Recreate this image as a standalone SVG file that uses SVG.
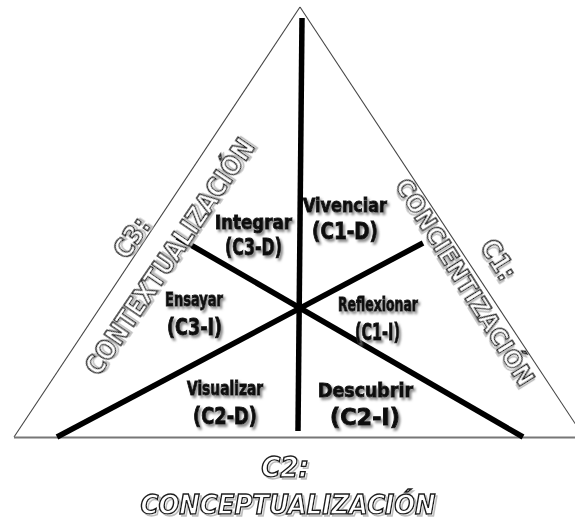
<svg xmlns="http://www.w3.org/2000/svg" width="575" height="524" viewBox="0 0 575 524">
<defs>
<filter id="sh" x="-20%" y="-30%" width="150%" height="170%">
<feDropShadow dx="2" dy="2.5" stdDeviation="1.2" flood-color="#808080" flood-opacity="0.9"/>
</filter>
<filter id="osh" x="-10%" y="-30%" width="130%" height="170%">
<feOffset in="SourceGraphic" dx="2" dy="2" result="o"/>
<feColorMatrix in="o" type="matrix" values="0.4 0 0 0 0.5  0 0.4 0 0 0.5  0 0 0.4 0 0.5  0 0 0 1 0" result="g"/>
<feMerge><feMergeNode in="g"/><feMergeNode in="SourceGraphic"/></feMerge>
</filter>
</defs>
<style>
.lbl{font-family:"DejaVu Sans Condensed","DejaVu Sans","Liberation Sans",sans-serif;font-weight:bold;fill:#111;stroke:#111;stroke-width:0.9px;text-anchor:middle;filter:url(#sh)}
.w{font-size:19px}
.c{font-size:23px}
.ol{font-family:"DejaVu Sans Condensed","DejaVu Sans","Liberation Sans",sans-serif;font-weight:bold;text-anchor:middle;fill:#fff;stroke:#1a1a1a;stroke-width:1.4px;filter:url(#osh)}
.thick{stroke:#000;stroke-width:5.5;fill:none}
</style>
<rect width="575" height="524" fill="#fff"/>
<g id="triangle">
<line x1="300" y1="7" x2="14" y2="437" stroke="#444" stroke-width="1.1"/>
<line x1="300" y1="7" x2="584" y2="437" stroke="#444" stroke-width="1.1"/>
<line x1="14" y1="437.5" x2="575" y2="437.5" stroke="#777" stroke-width="2"/>
</g>
<g id="connectors">
<line class="thick" x1="302" y1="18" x2="298" y2="431"/>
<line class="thick" x1="177" y1="237" x2="523" y2="437"/>
<line class="thick" x1="423" y1="243" x2="57" y2="437"/>
</g>
<g id="side-c3">
<text class="ol" transform="translate(132,238) rotate(-56.3)" x="0" y="9" font-size="26">C3:</text>
<text class="ol" transform="translate(170,257) rotate(-55.8)" x="0" y="9" font-size="26" textLength="279" lengthAdjust="spacingAndGlyphs">CONTEXTUALIZACIÓN</text>
</g>
<g id="side-c1">
<text class="ol" transform="translate(498,260) rotate(58)" x="0" y="9" font-size="26">C1:</text>
<text class="ol" transform="translate(465,282) rotate(58)" x="0" y="9" font-size="25" textLength="239" lengthAdjust="spacingAndGlyphs">CONCIENTIZACIÓN</text>
</g>
<g id="side-c2">
<text class="ol" x="285" y="477" font-size="29" font-style="italic">C2:</text>
<text class="ol" x="288" y="514" font-size="27" font-style="italic" textLength="295" lengthAdjust="spacingAndGlyphs">CONCEPTUALIZACIÓN</text>
</g>
<g id="node-c1d">
<text class="lbl w" x="345" y="212" textLength="84" lengthAdjust="spacingAndGlyphs">Vivenciar</text>
<text class="lbl c" x="345" y="239" textLength="66" lengthAdjust="spacingAndGlyphs">(C1-D)</text>
</g>
<g id="node-c3d">
<text class="lbl w" x="253.5" y="229" textLength="77" lengthAdjust="spacingAndGlyphs">Integrar</text>
<text class="lbl c" x="253.5" y="255" font-size="21" textLength="57" lengthAdjust="spacingAndGlyphs">(C3-D)</text>
</g>
<g id="node-c3i">
<text class="lbl w" x="194" y="306" textLength="58" lengthAdjust="spacingAndGlyphs">Ensayar</text>
<text class="lbl c" x="194.5" y="335" textLength="55" lengthAdjust="spacingAndGlyphs">(C3-I)</text>
</g>
<g id="node-c1i">
<text class="lbl w" x="378" y="311" textLength="80" lengthAdjust="spacingAndGlyphs">Reflexionar</text>
<text class="lbl c" x="377.5" y="340" textLength="45" lengthAdjust="spacingAndGlyphs">(C1-I)</text>
</g>
<g id="node-c2d">
<text class="lbl w" x="225" y="395" textLength="76" lengthAdjust="spacingAndGlyphs">Visualizar</text>
<text class="lbl c" x="225" y="424" textLength="64" lengthAdjust="spacingAndGlyphs">(C2-D)</text>
</g>
<g id="node-c2i">
<text class="lbl w" x="365.5" y="397" font-size="20" textLength="95" lengthAdjust="spacingAndGlyphs">Descubrir</text>
<text class="lbl c" x="365" y="425" textLength="70" lengthAdjust="spacingAndGlyphs">(C2-I)</text>
</g>
</svg>
